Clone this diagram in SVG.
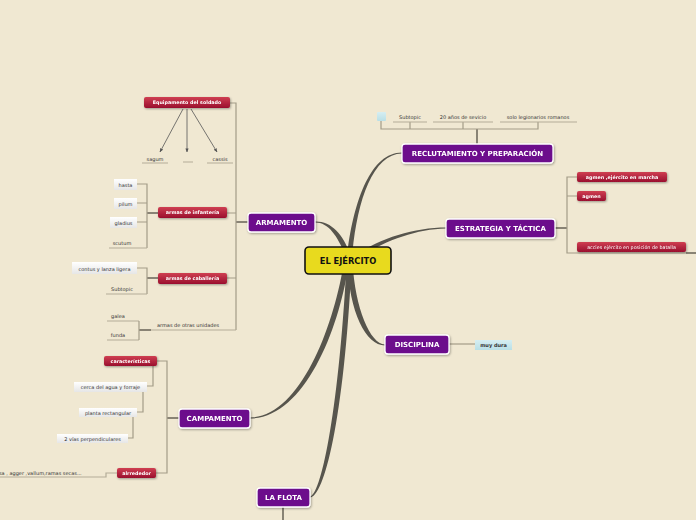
<svg xmlns="http://www.w3.org/2000/svg" width="696" height="520" viewBox="0 0 696 520">
<style>
.main rect{fill:#6c0a8c;stroke:#fff;stroke-width:1.3}
.main text{fill:#fff;font:bold 7px "DejaVu Sans",sans-serif;text-anchor:middle;dominant-baseline:central}
.red rect{fill:url(#gRed)}
.red text{fill:#fff;font:bold 4.8px "DejaVu Sans",sans-serif;text-anchor:middle;dominant-baseline:central}
.red text.n{font-weight:normal}
.wht rect{fill:url(#gWht)}
.wht text,.pl text{fill:#333;font:5px "DejaVu Sans",sans-serif;text-anchor:middle;dominant-baseline:central}
.br{fill:none;stroke:#a39c88;stroke-width:1.2}
.brk{fill:none;stroke:#7d786a;stroke-width:1.8}
.ul{fill:none;stroke:#b3ac98;stroke-width:1.2}
.tap{fill:#57554d}
.arr{stroke:#555;stroke-width:0.8;marker-end:url(#ah)}
</style>
<defs>
<linearGradient id="gRed" x1="0" y1="0" x2="0" y2="1"><stop offset="0" stop-color="#cf3f52"/><stop offset="1" stop-color="#9a0f2e"/></linearGradient>
<linearGradient id="gWht" x1="0" y1="0" x2="0" y2="1"><stop offset="0" stop-color="#ffffff"/><stop offset="1" stop-color="#e6e6e6"/></linearGradient>
<linearGradient id="gBlu" x1="0" y1="0" x2="0" y2="1"><stop offset="0" stop-color="#d6eef2"/><stop offset="1" stop-color="#b9dfe6"/></linearGradient>
<filter id="sh" x="-20%" y="-30%" width="140%" height="170%"><feDropShadow dx="0.8" dy="1" stdDeviation="0.8" flood-color="#000" flood-opacity="0.35"/></filter>
<marker id="ah" viewBox="0 0 10 10" refX="9" refY="5" markerWidth="5" markerHeight="5" orient="auto"><path d="M0,1 L10,5 L0,9 Z" fill="#555"/></marker>
</defs>
<rect width="696" height="520" fill="#f0e8d2"/>

<g id="connectors">
<!-- tapered main branches -->
<path class="tap" d="M347.5,252 C354,200 371,152.5 402,152.5 L402,153.5 C373,154 357.5,200 352.5,252 Z"/>
<path class="tap" d="M315,221.5 C331,221 343,234 350.5,255 L345.5,255 C337,236 329,222.5 315,222.5 Z"/>
<path class="tap" d="M355,255.5 C380,238 415,227.5 446,227.5 L446,228.5 C415,229 381,242 355,260.5 Z"/>
<path class="tap" d="M347.5,262 C349,312 366,345.5 385,345.5 L385,344.5 C370,344 355,308 352.5,262 Z"/>
<path class="tap" d="M348.5,265 C338,335 302,418.5 250,418.5 L250,417.5 C298,417 332,333 343.5,265 Z"/>
<path class="tap" d="M351.5,265 C344,420 324,497.5 310,497.5 L310,496.5 C320,496 338,420 346.5,265 Z"/>

<!-- ARMAMENTO brackets -->
<path class="brk" d="M248,222 H236"/>
<path class="br" d="M230,103 H236 V330"/>
<path class="br" d="M227,213 H236 M227,278 H236"/>
<path class="ul" d="M151,330 H236"/>
<path class="brk" d="M139,330 H151"/>
<!-- infantry -->
<path class="brk" d="M158,213 H147"/>
<path class="br" d="M137,184 H147 V248 M137,203 H147 M137,222 H147"/>
<path class="ul" d="M109,248 H147"/>
<!-- cavalry -->
<path class="brk" d="M158,278 H147"/>
<path class="br" d="M137,268 H147 V294"/>
<path class="ul" d="M106,294 H147"/>
<!-- otras unidades -->
<path class="ul" d="M107,321 H139 M107,340 H139"/>
<path class="br" d="M139,321 V340"/>
<!-- equipamento arrows -->
<line class="arr" x1="183" y1="109" x2="160" y2="152"/>
<line class="arr" x1="187" y1="109" x2="187" y2="152"/>
<line class="arr" x1="191" y1="109" x2="217" y2="152"/>
<path class="ul" d="M142,163 H168 M183,162 H193 M207,163 H233"/>

<!-- RECLUTAMIENTO -->
<path class="brk" d="M477,144 V129"/>
<path class="br" d="M381,121 V129 H538 V122 M410,122 V129 M463,122 V129"/>
<path class="ul" d="M393,122 H427 M433,122 H493 M500,122 H577"/>

<!-- ESTRATEGIA -->
<path class="brk" d="M555,228 H567"/>
<path class="br" d="M577,177 H567 V253 H686 M567,196 H577"/>
<path class="brk" d="M686,253 H696"/>

<!-- DISCIPLINA -->
<path class="br" d="M449,344 H475"/>

<!-- CAMPAMENTO -->
<path class="brk" d="M179,418 H167"/>
<path class="br" d="M157,361 H167 V473 H156"/>
<path class="br" d="M153,366 V386 H147 M143,392 V412 H137 M133,417 V438 H128"/>
<path class="ul" d="M0,477 H106 V473 H117"/>

<!-- LA FLOTA -->
<path class="brk" d="M283,507 V520"/>
</g>

<g id="center">
<rect x="305" y="247" width="86" height="27" rx="4" fill="#e8da1e" stroke="#111" stroke-width="1.6"/>
<text x="348" y="261" fill="#111" font-family="DejaVu Sans,sans-serif" font-weight="bold" font-size="8.3" text-anchor="middle" dominant-baseline="central">EL EJÉRCITO</text>
</g>

<g id="armamento" class="main" filter="url(#sh)"><rect x="248" y="213" width="67" height="19" rx="3"/><text x="281.5" y="222.5">ARMAMENTO</text></g>
<g id="reclutamiento" class="main" filter="url(#sh)"><rect x="402" y="144" width="151" height="19" rx="3"/><text x="477.5" y="153.5">RECLUTAMIENTO Y PREPARACIÓN</text></g>
<g id="estrategia" class="main" filter="url(#sh)"><rect x="446" y="219" width="109" height="19" rx="3"/><text x="500.5" y="228.5">ESTRATEGIA Y TÁCTICA</text></g>
<g id="disciplina" class="main" filter="url(#sh)"><rect x="385" y="335" width="64" height="19" rx="3"/><text x="417" y="344.5">DISCIPLINA</text></g>
<g id="campamento" class="main" filter="url(#sh)"><rect x="179" y="409" width="71" height="19" rx="3"/><text x="214.5" y="418.5">CAMPAMENTO</text></g>
<g id="flota" class="main" filter="url(#sh)"><rect x="257" y="488" width="53" height="19" rx="3"/><text x="283.5" y="497.5">LA FLOTA</text></g>

<g id="equipamento" class="red" filter="url(#sh)"><rect x="144" y="97" width="86" height="11" rx="2"/><text x="187" y="102.7">Equipamento del soldado</text></g>
<g id="infanteria" class="red" filter="url(#sh)"><rect x="158" y="207" width="69" height="11" rx="2"/><text x="192.5" y="212.7">armas de infantería</text></g>
<g id="caballeria" class="red" filter="url(#sh)"><rect x="158" y="273" width="69" height="11" rx="2"/><text x="192.5" y="278.7">armas de caballería</text></g>
<g id="caracteristicas" class="red" filter="url(#sh)"><rect x="104" y="356" width="53" height="10" rx="2"/><text x="130.5" y="361.2">características</text></g>
<g id="alrededor" class="red" filter="url(#sh)"><rect x="117" y="468" width="39" height="10" rx="2"/><text x="136.5" y="473.2">alrrededor</text></g>
<g id="agmen1" class="red" filter="url(#sh)"><rect x="577" y="172" width="90" height="10" rx="2"/><text x="622" y="177.2">agmen ,ejército en marcha</text></g>
<g id="agmen2" class="red" filter="url(#sh)"><rect x="577" y="191" width="29" height="10" rx="2"/><text x="591.5" y="196.2">agmen</text></g>
<g id="accies" class="red" filter="url(#sh)"><rect x="577" y="242" width="109" height="10" rx="2"/><text class="n" x="631.5" y="247.2">accies ejército en posición de batalla</text></g>

<g id="sagum" class="pl"><text x="155" y="158.5">sagum</text></g>
<g id="cassis" class="pl"><text x="220" y="158.5">cassis</text></g>
<g id="hasta" class="wht"><rect x="114" y="179" width="23" height="11"/><text x="125.5" y="184.7">hasta</text></g>
<g id="pilum" class="wht"><rect x="114" y="198" width="23" height="11"/><text x="125.5" y="203.7">pilum</text></g>
<g id="gladius" class="wht"><rect x="110" y="217" width="27" height="11"/><text x="123.5" y="222.7">gladius</text></g>
<g id="scutum" class="pl"><text x="122" y="242.5">scutum</text></g>
<g id="contus" class="wht"><rect x="72" y="262" width="65" height="12"/><text x="104.5" y="268.5">contus y lanza ligera</text></g>
<g id="subtopic1" class="pl"><text x="122" y="288.5">Subtopic</text></g>
<g id="galea" class="pl"><text x="118" y="315.5">galea</text></g>
<g id="funda" class="pl"><text x="118" y="334.5">funda</text></g>
<g id="otras" class="pl"><text x="188" y="324.5">armas de otras unidades</text></g>
<g id="cerca" class="wht"><rect x="74" y="382" width="73" height="10"/><text x="110.5" y="387.2">cerca del agua y forraje</text></g>
<g id="planta" class="wht"><rect x="79" y="408" width="58" height="9"/><text x="108" y="412.7">planta rectangular</text></g>
<g id="vias" class="wht"><rect x="57" y="434" width="71" height="9"/><text x="92.5" y="438.7">2 vías perpendiculares</text></g>
<g id="fosa" class="pl"><text x="-1" y="472.5" style="text-anchor:start">sa , agger ,vallum,ramas secas...</text></g>

<g id="blank"><rect x="377" y="112" width="9" height="9" rx="1" fill="url(#gBlu)"/></g>
<g id="subtopic2" class="pl"><text x="410" y="116.5">Subtopic</text></g>
<g id="anios" class="pl"><text x="463" y="116.5">20 años de sevicio</text></g>
<g id="legionarios" class="pl"><text x="538" y="116.5">solo legionarios romanos</text></g>

<g id="muydura"><rect x="475" y="340" width="37" height="10" fill="url(#gBlu)"/><text x="493.5" y="345.2" fill="#333" font-family="DejaVu Sans,sans-serif" font-weight="bold" font-size="5" text-anchor="middle" dominant-baseline="central">muy dura</text></g>
</svg>
